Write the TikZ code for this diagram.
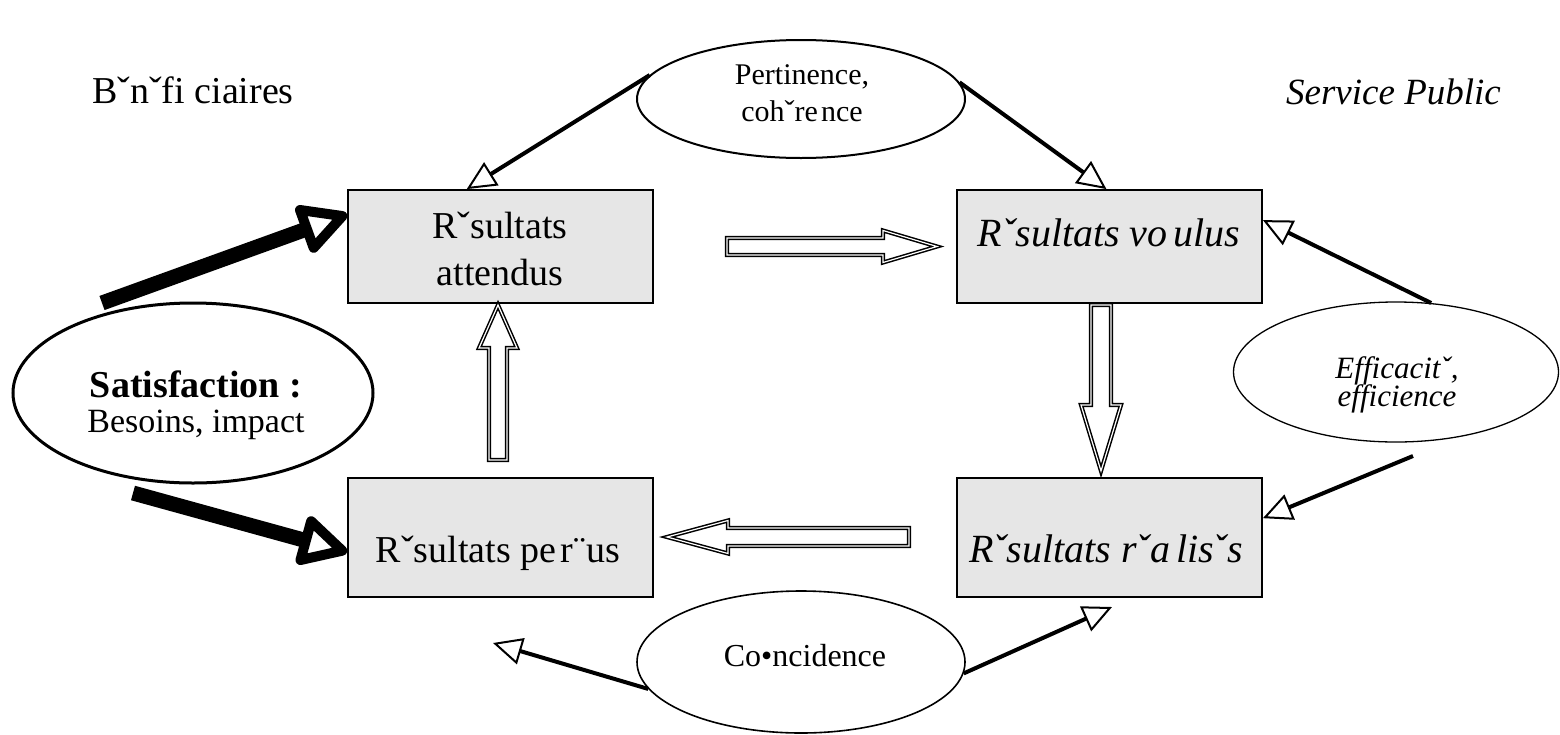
\documentclass[tikz,border=0pt]{standalone}
\usepackage{fontspec}
\setmainfont{Liberation Serif}
\usetikzlibrary{shapes.geometric,arrows.meta,calc}
\definecolor{boxgray}{RGB}{230,230,230}
\newcommand\bigtxt{\fontsize{38}{44}\selectfont}
\newcommand\bigit{\fontsize{40}{46}\selectfont\itshape}
\newcommand\spit{\fontsize{37}{43}\selectfont\itshape}
\newcommand\effit{\fontsize{31}{37}\selectfont\itshape}
\begin{document}
\begin{tikzpicture}[x=1pt,y=-1pt,
  box/.style={draw, line width=1.8pt, fill=boxgray, minimum width=305pt, inner sep=0pt},
  oval/.style={draw, ellipse, fill=white, inner sep=0pt},
  txt/.style={anchor=base, inner sep=0pt},
  conn/.style={line width=4pt, -{Triangle[open, length=29pt, width=27pt, line width=2pt]}},
  bigconn/.style={line width=15pt, -{Triangle[open, round, length=54pt, width=54pt, line width=10pt]}},
  hollow/.style={draw, double=white, double distance=1.2pt, line width=1.5pt, line join=miter}]
\useasboundingbox (0,0) rectangle (1560,734);

% boxes
\node[box, minimum height=113pt] (b1) at (500.5,246.5) {};
\node[box, minimum height=113pt] (b2) at (1109.5,246.5) {};
\node[box, minimum height=119pt] (b3) at (500.5,537.5) {};
\node[box, minimum height=119pt] (b4) at (1109.5,537.5) {};

% ellipses
\node[oval, line width=2pt, minimum width=328pt, minimum height=118pt] (pert) at (801,99) {};
\node[oval, line width=3pt, minimum width=360pt, minimum height=180pt] (sat) at (193,393) {};
\node[oval, line width=1.3pt, minimum width=325pt, minimum height=140pt] (eff) at (1396,372) {};
\node[oval, line width=1.6pt, minimum width=328pt, minimum height=142pt] (coin) at (801,662) {};

% texts
\node[txt, anchor=base west] (ben) at (92,103) {\bigtxt Bˇnˇfi ciaires};
\node[txt, anchor=base east] (sp) at (1501,104) {\spit Service Public};
\node[txt] (t1a) at (500,238) {\bigtxt Rˇsultats};
\node[txt] (t1b) at (500,285) {\bigtxt attendus};
\node[txt] (t2) at (1109,246) {\bigit Rˇsultats vo\hspace{0.15em}ulus};
\node[txt] (t3) at (498,562) {\bigtxt Rˇsultats pe\hspace{0.12em}r¨us};
\node[txt] (t4) at (1106,562) {\bigit Rˇsultats rˇa\hspace{0.15em}lisˇs};
\node[txt] (p1) at (802,84) {\fontsize{30}{36}\selectfont Pertinence,};
\node[txt] (p2) at (802,121) {\fontsize{30}{36}\selectfont cohˇre\hspace{0.1em}nce};
\node[txt] (s1) at (196,397) {\fontsize{38}{44}\selectfont\bfseries Satisfaction :};
\node[txt] (s2) at (196,432) {\fontsize{34}{40}\selectfont Besoins, impact};
\node[txt] (e1) at (1397,378) {\effit Efficacitˇ,};
\node[txt] (e2) at (1397,406) {\effit efficience};
\node[txt] (c1) at (805,666) {\fontsize{32}{38}\selectfont Co•ncidence};

% free ends
\coordinate (st1) at (102,303);
\coordinate (st2) at (133,493);
\coordinate (ef2) at (1413,456);
\coordinate (cl) at (493,643);
\coordinate (cr) at (1112,607);

% thin connectors
\draw[conn] (pert.171) -- ($(b1.north west)!0.39!(b1.north east)$);
\draw[conn] (pert.6) -- ($(b2.north west)!0.49!(b2.north east)$);
\draw[conn] (eff.63) -- ($(b2.north east)!0.27!(b2.south east)$);
\draw[conn] (ef2) -- ($(b4.north east)!0.34!(b4.south east)$);
\draw[conn] (coin.190) -- (cl);
\draw[conn] (coin.356) -- (cr);

% thick connectors
\draw[bigconn] (st1) -- ($(b1.north west)!0.22!(b1.south west)$);
\draw[bigconn] (st2) -- ($(b3.north west)!0.62!(b3.south west)$);

% hollow block arrows
\begin{scope}[shift={(727,246.5)}]
\draw[hollow] (0,-8.5) -- (156,-8.5) -- (156,-16) -- (210,0) -- (156,16) -- (156,8.5) -- (0,8.5) -- cycle;
\end{scope}
\begin{scope}[shift={(909,537)}]
\draw[hollow] (0,-9) -- (-181,-9) -- (-181,-16.5) -- (-242,0) -- (-181,16.5) -- (-181,9) -- (0,9) -- cycle;
\end{scope}
\begin{scope}[shift={(498,460)}]
\draw[hollow] (-9,0) -- (-9,-112) -- (-19,-112) -- (0,-155) -- (19,-112) -- (9,-112) -- (9,0) -- cycle;
\end{scope}
\begin{scope}[shift={(1101,305)}]
\draw[hollow] (-10,0) -- (-10,100) -- (-20,100) -- (0,166) -- (20,100) -- (10,100) -- (10,0) -- cycle;
\end{scope}
\end{tikzpicture}
\end{document}
